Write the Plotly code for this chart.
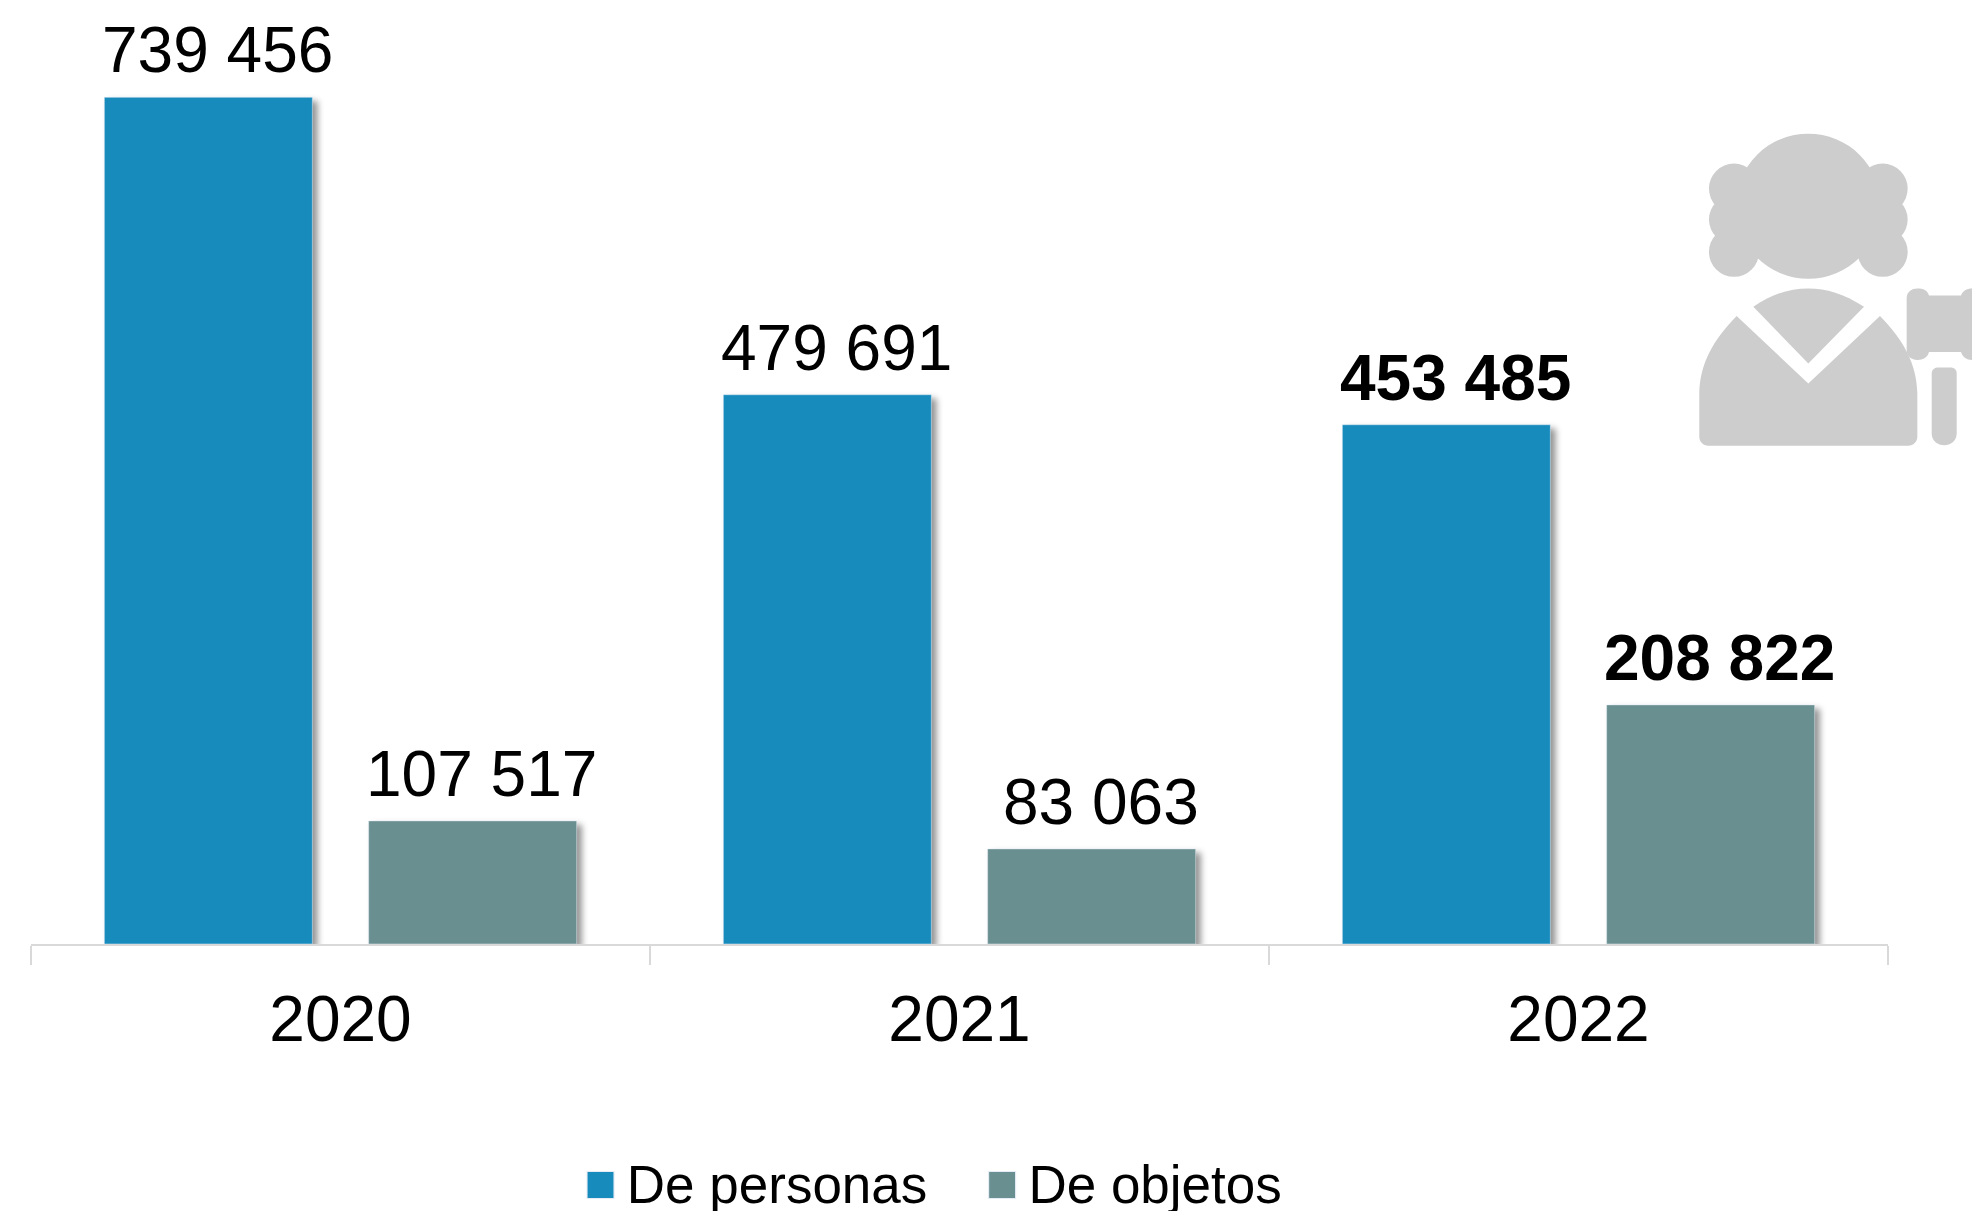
import plotly.graph_objects as go

years = ["2020", "2021", "2022"]
personas = [739456, 479691, 453485]
objetos = [107517, 83063, 208822]
labels_personas = ["739 456", "479 691", "<b>453 485</b>"]
labels_objetos = ["107 517", "83 063", "<b>208 822</b>"]

W, H = 1972, 1211
L, R, T, B = 31.4, 84, 27.6, 266.5
FONT = "Liberation Sans"
BLUE, TEAL, GREY = "#168BBC", "#698F90", "#CDCDCD"
BARGAP, GROUPGAP = 0.146, 0.213
OFF = (1 - BARGAP) / 4


def pp(x, y):
    return (x - L) / (W - L - R), 1 - (y - T) / (H - T - B)


def z(x, y):
    return pp(1660 + x / 3, 110 + y / 3)


def path(*cmds):
    out = []
    for c in cmds:
        pts = []
        for i in range(0, len(c) - 1, 2):
            px, py = z(c[i], c[i + 1])
            pts.append(f"{px:.5f},{py:.5f}")
        out.append(c[-1] + " ".join(pts))
    return " ".join(out)


def circ(cx, cy, r):
    x0, y0 = z(cx - r, cy + r)
    x1, y1 = z(cx + r, cy - r)
    return dict(type="circle", xref="paper", yref="paper", x0=x0, y0=y0, x1=x1, y1=y1,
                fillcolor=GREY, line_width=0, layer="below")


def shp(d):
    return dict(type="path", xref="paper", yref="paper", path=d, fillcolor=GREY, line_width=0, layer="below")


shapes = [circ(445, 288, 218)]
for cx in (222, 668):
    for cy in (235, 328, 425):
        shapes.append(circ(cx, cy, 75))
shapes += [
    shp(path((280, 590, "M"), (340, 550, 390, 535, 445, 535, "C"), (500, 535, 550, 550, 612, 590, "C"),
             (445, 760, "L"), "Z")),
    shp(path((230, 618, "M"), (445, 820, "L"), (660, 618, "L"), (730, 690, 770, 760, 772, 850, "C"),
             (772, 980, "L"), (772, 995, 760, 1007, 745, 1007, "C"), (145, 1007, "L"),
             (130, 1007, 118, 995, 118, 980, "C"), (118, 850, "L"), (120, 760, 160, 690, 230, 618, "C"), "Z")),
    shp(path((740, 565, "M"), (740, 545, 755, 535, 772, 535, "C"), (790, 535, 803, 540, 807, 556, "C"),
             (903, 556, "L"), (908, 542, 920, 535, 936, 535, "C"), (975, 535, "L"), (975, 750, "L"), (936, 750, "L"),
             (920, 750, 908, 742, 903, 726, "C"), (807, 726, "L"), (803, 742, 790, 750, 772, 750, "C"),
             (755, 750, 740, 740, 740, 720, "C"), "Z")),
    shp(path((815, 790, "M"), (815, 777, 825, 772, 835, 772, "C"), (870, 772, "L"),
             (885, 772, 890, 780, 890, 790, "C"), (890, 970, "L"), (890, 1018, 815, 1018, 815, 970, "C"), "Z")),
]

fig = go.Figure()
fig.add_bar(name="De personas", x=years, y=personas, marker_color=BLUE, cliponaxis=False)
fig.add_bar(name="De objetos", x=years, y=objetos, marker_color=TEAL, cliponaxis=False)

annotations = []
for i in range(len(years)):
    for sign, vals, labs in ((-1, personas, labels_personas), (1, objetos, labels_objetos)):
        annotations.append(dict(x=i + sign * OFF, y=vals[i], xref="x", yref="y", text=labs[i], showarrow=False,
                                xanchor="center", yanchor="bottom", xshift=9, yshift=9,
                                font=dict(family=FONT, size=64, color="#000000")))

fig.update_layout(
    width=W, height=H, autosize=False,
    margin=dict(l=L, r=R, t=T, b=B, pad=0),
    paper_bgcolor="white", plot_bgcolor="white",
    barmode="group", bargap=BARGAP, bargroupgap=GROUPGAP,
    font=dict(family=FONT, color="#000000"),
    shapes=shapes, annotations=annotations,
    showlegend=True,
    legend=dict(orientation="h", xref="paper", x=pp(574.5, 0)[0], xanchor="left",
                yref="container", y=1 - 1141 / H, yanchor="top",
                font=dict(family=FONT, size=53, color="#000000"), itemwidth=42.6,
                entrywidth=344, entrywidthmode="pixels", bgcolor="rgba(0,0,0,0)",
                traceorder="normal", itemclick=False, itemdoubleclick=False),
    xaxis=dict(type="category", showline=True, linecolor="#D9D9D9", linewidth=2, showgrid=False, zeroline=False,
               ticks="outside", tickson="boundaries", ticklen=19, tickwidth=2, tickcolor="#D9D9D9",
               tickfont=dict(family=FONT, size=64, color="#000000"), ticklabelstandoff=18),
    yaxis=dict(range=[0, 800000], visible=False, fixedrange=True),
)

post = """
document.documentElement.style.overflow='hidden';
document.body.style.margin='0';
document.body.style.overflow='hidden';
var st=document.createElement('style');
st.textContent=".bars .point path{filter:drop-shadow(5px 4px 3px rgba(0,0,0,0.42));}"
 +".legendpoints path{transform:translate(26.3px,3px) scale(2.25);}";
document.head.appendChild(st);
"""
fig.write_html("out.html", post_script=post, config={"displayModeBar": False, "responsive": False})
